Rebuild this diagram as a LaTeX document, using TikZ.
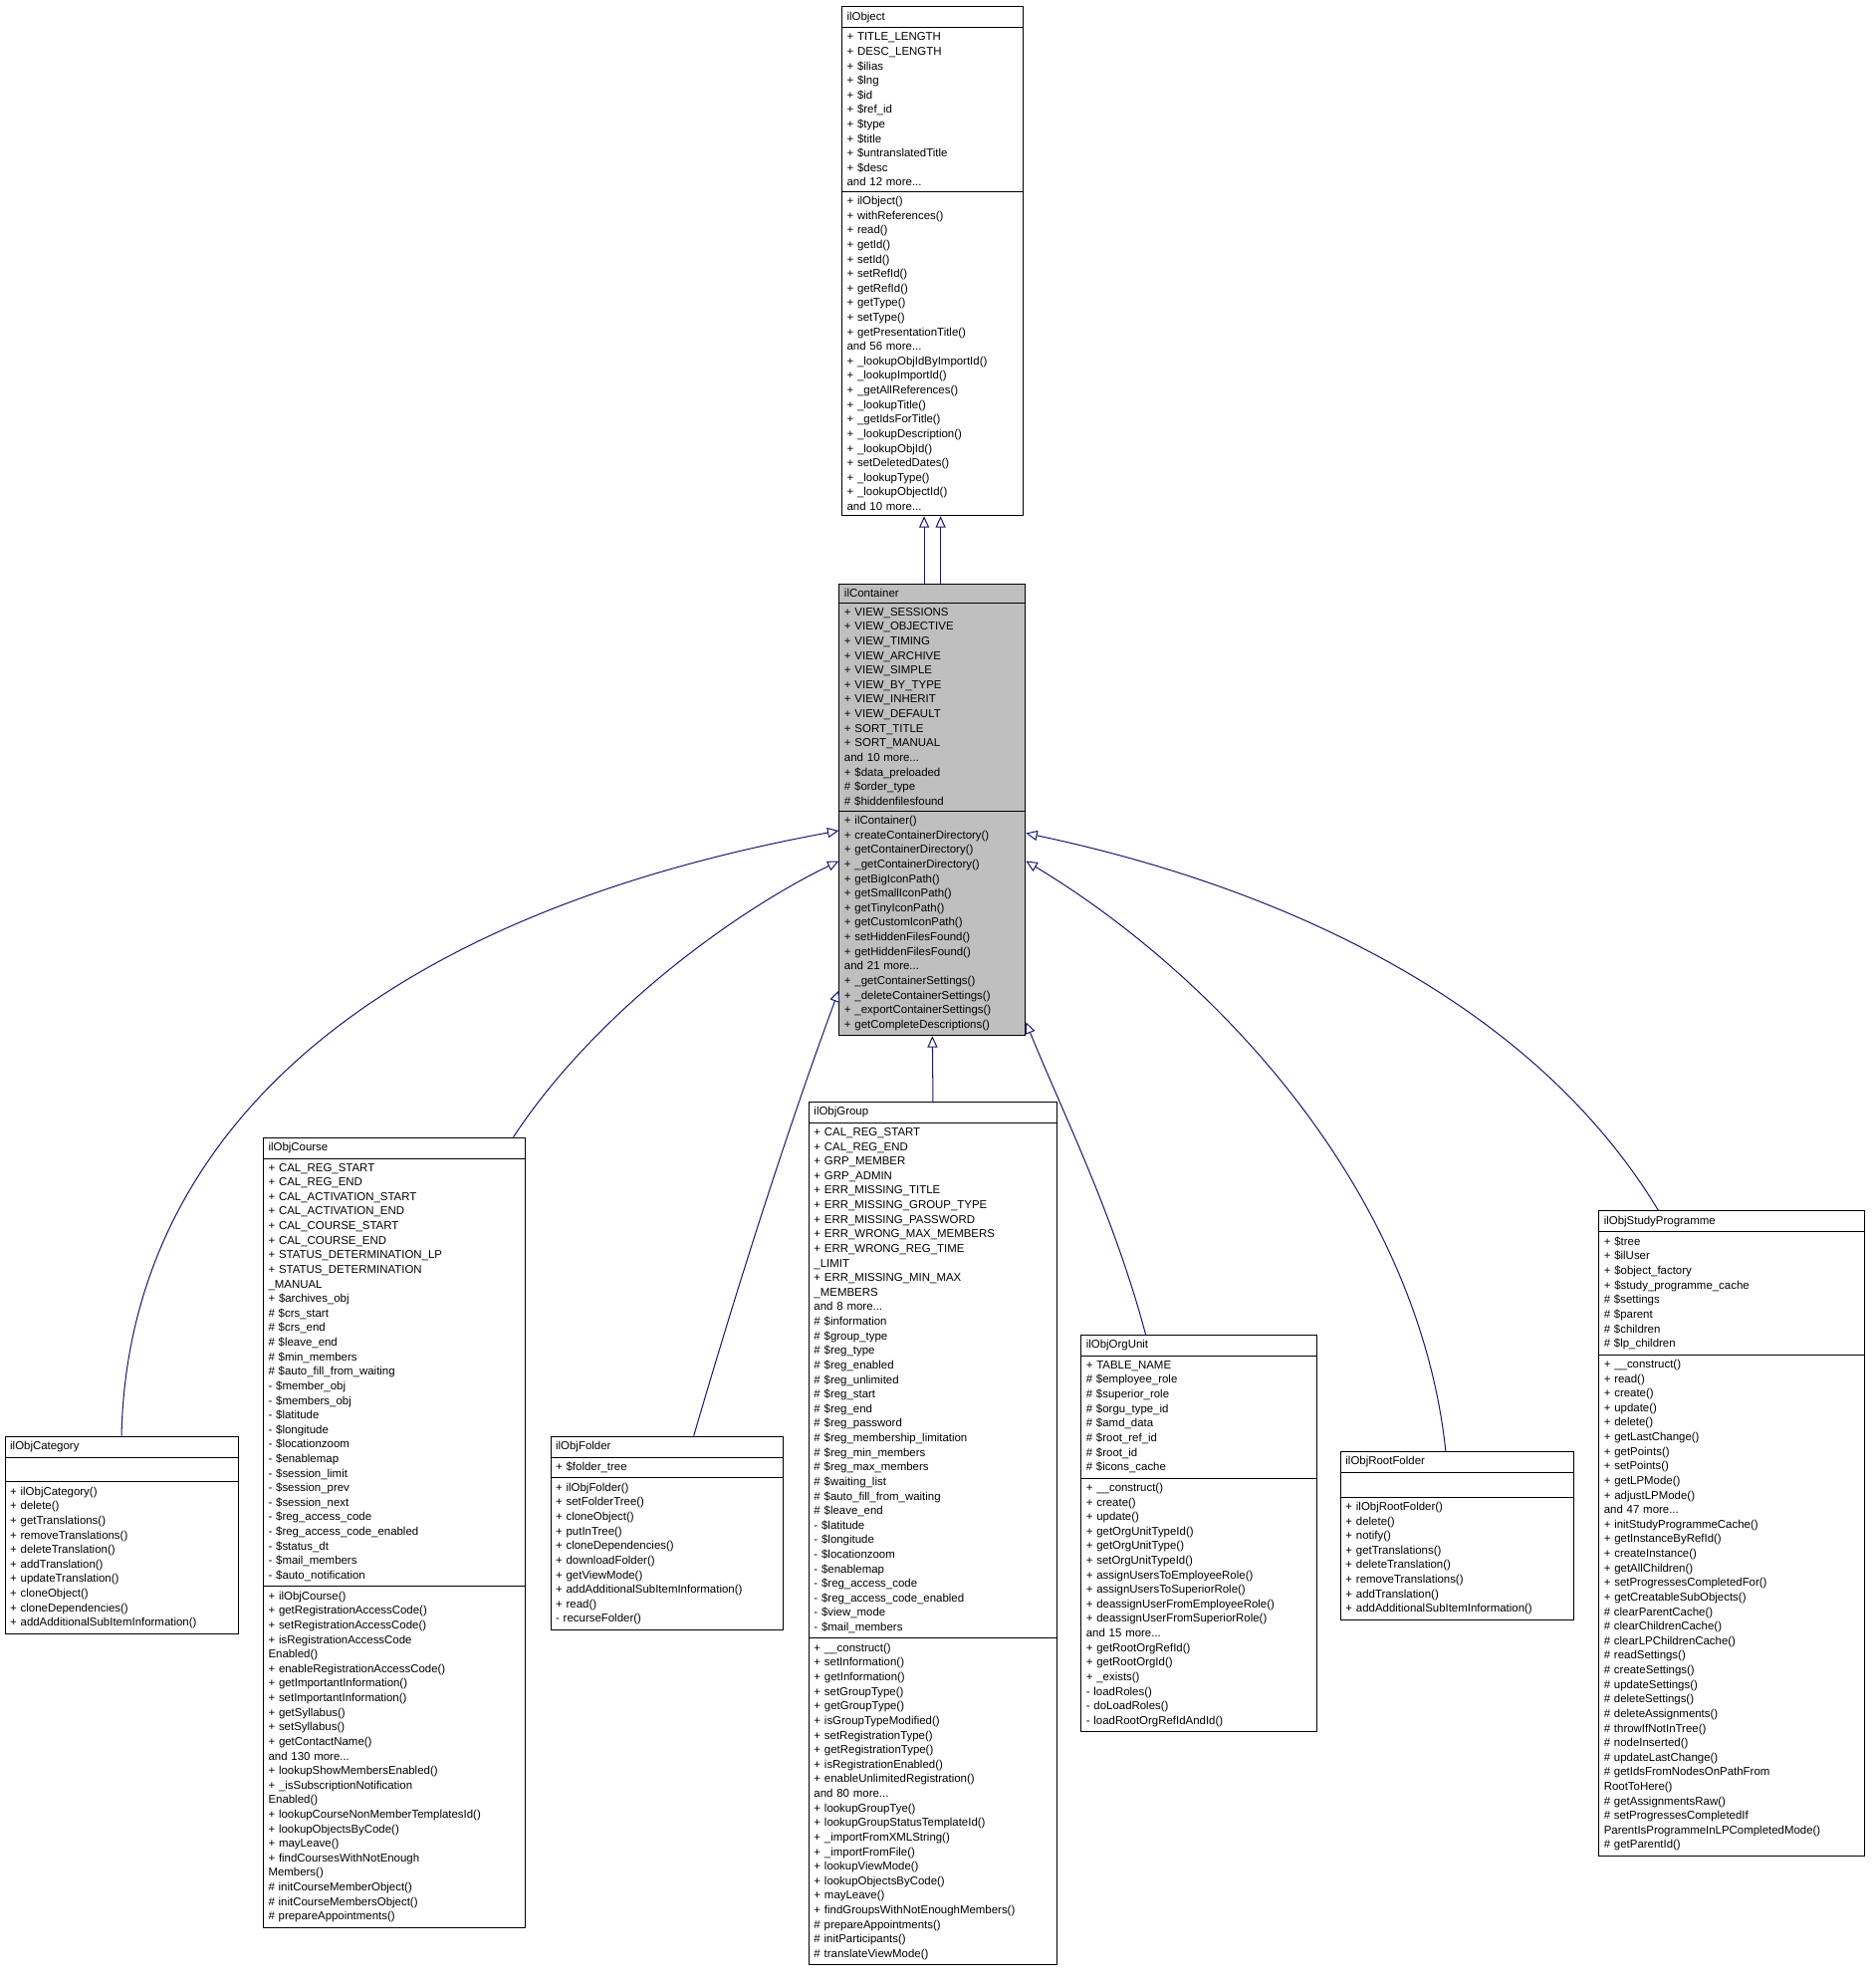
\documentclass[tikz,border=0pt]{standalone}
\usepackage{fontspec}
\setmainfont{Liberation Sans}
\usetikzlibrary{shapes.multipart,arrows.meta,calc}
\definecolor{edgeblue}{RGB}{25,25,112}
\definecolor{boxgray}{RGB}{191,191,191}
\tikzset{
  classbox/.style={draw,rectangle split,rectangle split parts=3,anchor=north,
    rectangle split part align={center,left,left},
    align=left,inner xsep=4pt,inner ysep=3.6pt,fill=white,line width=0.8pt,
    font=\fontsize{9}{11.5}\selectfont},
  isa/.style={draw=edgeblue,line width=0.8pt,-{Triangle[open,length=9pt,width=8pt]}}
}
\begin{document}
\catcode`\_=12
\begin{tikzpicture}[x=1pt,y=-1pt]
\useasboundingbox (0,0) rectangle (1480,1570);
% base classes
\node[classbox,text width=135pt] (obj) at (736.5,5) {ilObject
\nodepart{two}+ TITLE_LENGTH\\+ DESC_LENGTH\\+ \$ilias\\+ \$lng\\+ \$id\\+ \$ref_id\\+ \$type\\+ \$title\\+ \$untranslatedTitle\\+ \$desc\\and 12 more...
\nodepart{three}+ ilObject()\\+ withReferences()\\+ read()\\+ getId()\\+ setId()\\+ setRefId()\\+ getRefId()\\+ getType()\\+ setType()\\+ getPresentationTitle()\\and 56 more...\\+ _lookupObjIdByImportId()\\+ _lookupImportId()\\+ _getAllReferences()\\+ _lookupTitle()\\+ _getIdsForTitle()\\+ _lookupDescription()\\+ _lookupObjId()\\+ setDeletedDates()\\+ _lookupType()\\+ _lookupObjectId()\\and 10 more...};
\node[classbox,text width=139pt,fill=boxgray] (cont) at (736.5,461) {ilContainer
\nodepart{two}+ VIEW_SESSIONS\\+ VIEW_OBJECTIVE\\+ VIEW_TIMING\\+ VIEW_ARCHIVE\\+ VIEW_SIMPLE\\+ VIEW_BY_TYPE\\+ VIEW_INHERIT\\+ VIEW_DEFAULT\\+ SORT_TITLE\\+ SORT_MANUAL\\and 10 more...\\+ \$data_preloaded\\\# \$order_type\\\# \$hiddenfilesfound
\nodepart{three}+ ilContainer()\\+ createContainerDirectory()\\+ getContainerDirectory()\\+ _getContainerDirectory()\\+ getBigIconPath()\\+ getSmallIconPath()\\+ getTinyIconPath()\\+ getCustomIconPath()\\+ setHiddenFilesFound()\\+ getHiddenFilesFound()\\and 21 more...\\+ _getContainerSettings()\\+ _deleteContainerSettings()\\+ _exportContainerSettings()\\+ getCompleteDescriptions()};
% derived classes
\node[classbox,text width=176pt] (cat) at (96,1134) {ilObjCategory
\nodepart{two}\strut
\nodepart{three}+ ilObjCategory()\\+ delete()\\+ getTranslations()\\+ removeTranslations()\\+ deleteTranslation()\\+ addTranslation()\\+ updateTranslation()\\+ cloneObject()\\+ cloneDependencies()\\+ addAdditionalSubItemInformation()};
\node[classbox,text width=199pt] (crs) at (311.5,898) {ilObjCourse
\nodepart{two}+ CAL_REG_START\\+ CAL_REG_END\\+ CAL_ACTIVATION_START\\+ CAL_ACTIVATION_END\\+ CAL_COURSE_START\\+ CAL_COURSE_END\\+ STATUS_DETERMINATION_LP\\+ STATUS_DETERMINATION\\_MANUAL\\+ \$archives_obj\\\# \$crs_start\\\# \$crs_end\\\# \$leave_end\\\# \$min_members\\\# \$auto_fill_from_waiting\\- \$member_obj\\- \$members_obj\\- \$latitude\\- \$longitude\\- \$locationzoom\\- \$enablemap\\- \$session_limit\\- \$session_prev\\- \$session_next\\- \$reg_access_code\\- \$reg_access_code_enabled\\- \$status_dt\\- \$mail_members\\- \$auto_notification
\nodepart{three}+ ilObjCourse()\\+ getRegistrationAccessCode()\\+ setRegistrationAccessCode()\\+ isRegistrationAccessCode\\Enabled()\\+ enableRegistrationAccessCode()\\+ getImportantInformation()\\+ setImportantInformation()\\+ getSyllabus()\\+ setSyllabus()\\+ getContactName()\\and 130 more...\\+ lookupShowMembersEnabled()\\+ _isSubscriptionNotification\\Enabled()\\+ lookupCourseNonMemberTemplatesId()\\+ lookupObjectsByCode()\\+ mayLeave()\\+ findCoursesWithNotEnough\\Members()\\\# initCourseMemberObject()\\\# initCourseMembersObject()\\\# prepareAppointments()};
\node[classbox,text width=176pt] (fold) at (527,1134) {ilObjFolder
\nodepart{two}+ \$folder_tree
\nodepart{three}+ ilObjFolder()\\+ setFolderTree()\\+ cloneObject()\\+ putInTree()\\+ cloneDependencies()\\+ downloadFolder()\\+ getViewMode()\\+ addAdditionalSubItemInformation()\\+ read()\\- recurseFolder()};
\node[classbox,text width=188pt] (grp) at (737,870) {ilObjGroup
\nodepart{two}+ CAL_REG_START\\+ CAL_REG_END\\+ GRP_MEMBER\\+ GRP_ADMIN\\+ ERR_MISSING_TITLE\\+ ERR_MISSING_GROUP_TYPE\\+ ERR_MISSING_PASSWORD\\+ ERR_WRONG_MAX_MEMBERS\\+ ERR_WRONG_REG_TIME\\_LIMIT\\+ ERR_MISSING_MIN_MAX\\_MEMBERS\\and 8 more...\\\# \$information\\\# \$group_type\\\# \$reg_type\\\# \$reg_enabled\\\# \$reg_unlimited\\\# \$reg_start\\\# \$reg_end\\\# \$reg_password\\\# \$reg_membership_limitation\\\# \$reg_min_members\\\# \$reg_max_members\\\# \$waiting_list\\\# \$auto_fill_from_waiting\\\# \$leave_end\\- \$latitude\\- \$longitude\\- \$locationzoom\\- \$enablemap\\- \$reg_access_code\\- \$reg_access_code_enabled\\- \$view_mode\\- \$mail_members
\nodepart{three}+ __construct()\\+ setInformation()\\+ getInformation()\\+ setGroupType()\\+ getGroupType()\\+ isGroupTypeModified()\\+ setRegistrationType()\\+ getRegistrationType()\\+ isRegistrationEnabled()\\+ enableUnlimitedRegistration()\\and 80 more...\\+ lookupGroupTye()\\+ lookupGroupStatusTemplateId()\\+ _importFromXMLString()\\+ _importFromFile()\\+ lookupViewMode()\\+ lookupObjectsByCode()\\+ mayLeave()\\+ findGroupsWithNotEnoughMembers()\\\# prepareAppointments()\\\# initParticipants()\\\# translateViewMode()};
\node[classbox,text width=178pt] (org) at (947,1054) {ilObjOrgUnit
\nodepart{two}+ TABLE_NAME\\\# \$employee_role\\\# \$superior_role\\\# \$orgu_type_id\\\# \$amd_data\\\# \$root_ref_id\\\# \$root_id\\\# \$icons_cache
\nodepart{three}+ __construct()\\+ create()\\+ update()\\+ getOrgUnitTypeId()\\+ getOrgUnitType()\\+ setOrgUnitTypeId()\\+ assignUsersToEmployeeRole()\\+ assignUsersToSuperiorRole()\\+ deassignUserFromEmployeeRole()\\+ deassignUserFromSuperiorRole()\\and 15 more...\\+ getRootOrgRefId()\\+ getRootOrgId()\\+ _exists()\\- loadRoles()\\- doLoadRoles()\\- loadRootOrgRefIdAndId()};
\node[classbox,text width=176pt] (root) at (1151,1146) {ilObjRootFolder
\nodepart{two}\strut
\nodepart{three}+ ilObjRootFolder()\\+ delete()\\+ notify()\\+ getTranslations()\\+ deleteTranslation()\\+ removeTranslations()\\+ addTranslation()\\+ addAdditionalSubItemInformation()};
\node[classbox,text width=202pt] (stud) at (1368,956) {ilObjStudyProgramme
\nodepart{two}+ \$tree\\+ \$ilUser\\+ \$object_factory\\+ \$study_programme_cache\\\# \$settings\\\# \$parent\\\# \$children\\\# \$lp_children
\nodepart{three}+ __construct()\\+ read()\\+ create()\\+ update()\\+ delete()\\+ getLastChange()\\+ getPoints()\\+ setPoints()\\+ getLPMode()\\+ adjustLPMode()\\and 47 more...\\+ initStudyProgrammeCache()\\+ getInstanceByRefId()\\+ createInstance()\\+ getAllChildren()\\+ setProgressesCompletedFor()\\+ getCreatableSubObjects()\\\# clearParentCache()\\\# clearChildrenCache()\\\# clearLPChildrenCache()\\\# readSettings()\\\# createSettings()\\\# updateSettings()\\\# deleteSettings()\\\# deleteAssignments()\\\# throwIfNotInTree()\\\# nodeInserted()\\\# updateLastChange()\\\# getIdsFromNodesOnPathFrom\\RootToHere()\\\# getAssignmentsRaw()\\\# setProgressesCompletedIf\\ParentIsProgrammeInLPCompletedMode()\\\# getParentId()};
% inheritance
\draw[isa] ($(cont.north)+(-6.5,0)$) -- ($(obj.south)+(-6.5,0)$);
\draw[isa] ($(cont.north)+(6.5,0)$) -- ($(obj.south)+(6.5,0)$);
\draw[isa] (cat.north) .. controls (100,920) and (260,730) .. ($(cont.north west)+(0,195)$);
\draw[isa] ($(crs.north)+(94,0)$) .. controls (470,800) and (580,720) .. ($(cont.north west)+(0,219)$);
\draw[isa] ($(fold.north)+(21,0)$) .. controls (590,990) and (630,870) .. ($(cont.south west)+(0,-36)$);
\draw[isa] (grp.north) -- (cont.south);
\draw[isa] ($(org.north)+(-42,0)$) .. controls (880,960) and (840,880) .. ($(cont.south east)+(0,-11)$);
\draw[isa] ($(root.north)+(-9,0)$) .. controls (1120,940) and (960,770) .. ($(cont.north east)+(0,219)$);
\draw[isa] ($(stud.north)+(-58,0)$) .. controls (1210,790) and (1010,700) .. ($(cont.north east)+(0,197)$);
\end{tikzpicture}
\end{document}
